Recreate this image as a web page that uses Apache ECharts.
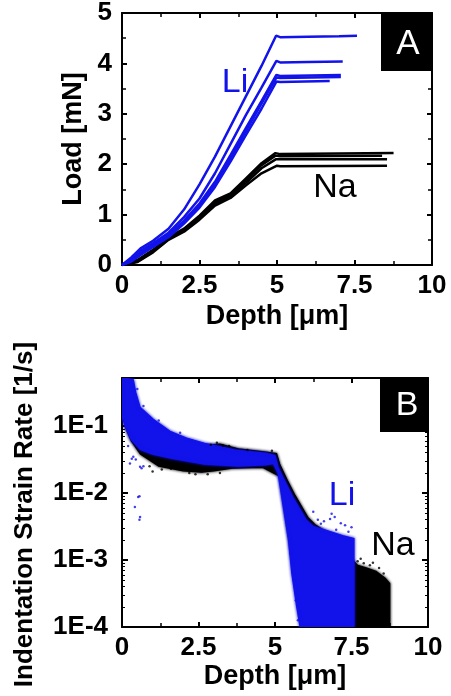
<!DOCTYPE html>
<html><head><meta charset="utf-8">
<script src="https://cdn.jsdelivr.net/npm/echarts@6/dist/echarts.min.js"></script>
<style>html,body{margin:0;padding:0;background:#fff}#c{width:451px;height:696px}</style>
</head><body><div id="c"></div>
<script>
const FONT = '"Liberation Sans", Arial, Helvetica, sans-serif';
const BLUE = '#1212ea';
const BLACK = '#000000';

// ---- Panel A: load vs depth (depth µm, load mN) ----
const depthTicks = [0, 2.5, 5, 7.5, 10];
const loadTicks = [0, 1, 2, 3, 4, 5];
const rateTickLabels = ['1E-4', '1E-3', '1E-2', '1E-1'];

const li1 = [[0,0],[0.3,0.15],[0.6,0.33],[1.0,0.48],[1.5,0.72],[2.0,1.1],[2.5,1.6],[3.0,2.15],[3.5,2.75],[4.0,3.35],[4.5,3.95],[4.97,4.55],[5.1,4.52],[6.0,4.53],[7.0,4.54],[7.58,4.55]];
const li2 = [[0,0],[0.3,0.12],[0.6,0.28],[1.0,0.43],[1.5,0.64],[2.0,0.95],[2.5,1.32],[3.0,1.82],[3.5,2.4],[4.0,2.98],[4.5,3.52],[4.98,4.05],[5.1,4.02],[6.0,4.03],[7.12,4.04]];
const li3 = [[0,0],[0.3,0.1],[0.6,0.25],[1.0,0.4],[1.5,0.6],[2.0,0.88],[2.5,1.22],[3.0,1.65],[3.5,2.18],[4.0,2.72],[4.5,3.25],[4.98,3.77],[5.1,3.75],[7.06,3.77]];
const li4 = [[0,0],[0.3,0.08],[0.6,0.22],[1.0,0.38],[1.5,0.57],[2.0,0.85],[2.5,1.18],[3.0,1.6],[3.5,2.12],[4.0,2.66],[4.5,3.2],[4.98,3.72],[5.1,3.71],[7.06,3.73]];
const li5 = [[0,0],[0.3,0.07],[0.6,0.2],[1.0,0.36],[1.5,0.55],[2.0,0.82],[2.5,1.14],[3.0,1.55],[3.5,2.05],[4.0,2.58],[4.5,3.1],[4.98,3.64],[5.1,3.63],[6.7,3.65]];
const na1 = [[0,0],[0.5,0.1],[1.0,0.3],[1.5,0.55],[2.0,0.72],[2.5,0.98],[3.0,1.28],[3.5,1.42],[4.0,1.72],[4.5,2.02],[4.95,2.22],[5.1,2.2],[7.0,2.21],[8.76,2.22]];
const na2 = [[0,0],[0.5,0.08],[1.0,0.28],[1.5,0.53],[2.0,0.7],[2.5,0.95],[3.0,1.25],[3.5,1.4],[4.0,1.68],[4.5,1.98],[4.95,2.17],[5.1,2.16],[8.39,2.17]];
const na3 = [[0,0],[0.5,0.07],[1.0,0.27],[1.5,0.52],[2.0,0.7],[2.5,0.93],[3.0,1.22],[3.5,1.37],[4.0,1.63],[4.5,1.92],[4.97,2.1],[5.1,2.1],[8.55,2.1]];
const na4 = [[0,0],[0.5,0.06],[1.0,0.25],[1.5,0.5],[2.0,0.66],[2.5,0.9],[3.0,1.18],[3.5,1.33],[4.0,1.58],[4.5,1.82],[5.0,1.97],[5.1,1.96],[8.55,1.97]];

// ---- Panel B: strain rate cloud outlines, [depth, log10(rate)] ----
const liCloudOutline = [[0,-0.28],[0.37,-0.31],[0.45,-0.5],[0.59,-0.72],[1.02,-0.9],[1.57,-1.08],[2.11,-1.18],[2.7,-1.26],[3.7,-1.36],[4.72,-1.41],[5.0,-1.44],[5.1,-1.62],[5.35,-1.85],[5.6,-2.08],[6.03,-2.41],[6.25,-2.5],[6.7,-2.56],[7.23,-2.64],[7.58,-2.68],[7.58,-4],
  [5.82,-4],[5.71,-3.7],[5.55,-3.2],[5.44,-2.7],[5.27,-2.2],[5.1,-1.7],[4.95,-1.56],[4.7,-1.58],[3.8,-1.6],[2.7,-1.57],[1.6,-1.48],[1.0,-1.42],[0.6,-1.35],[0.3,-1.2],[0.1,-1.0],[0,-0.85]];
const naCloudOutline = [[0,-0.5],[0.2,-0.8],[0.5,-1.0],[1.0,-1.15],[1.6,-1.25],[2.5,-1.3],[3.2,-1.27],[3.8,-1.34],[4.7,-1.39],[5.05,-1.41],[5.16,-1.58],[5.4,-1.81],[5.66,-2.04],[6.08,-2.37],[6.3,-2.47],[6.6,-2.56],[7.0,-2.8],[7.58,-3.02],[7.7,-3.08],[8.0,-3.12],[8.3,-3.17],[8.6,-3.27],[8.75,-3.35],[8.75,-4],
  [5.9,-4],[5.5,-2.8],[5.15,-1.75],[4.6,-1.62],[3.6,-1.63],[3.0,-1.67],[2.6,-1.69],[2.0,-1.67],[1.2,-1.6],[0.6,-1.42],[0.3,-1.22],[0.1,-1.0],[0,-0.6]];
const liDots = [[0.32,-1.49],[0.37,-1.46],[0.26,-1.56],[0.59,-1.61],[0.64,-1.63],[0.53,-2.06],[0.42,-2.21],[0.59,-2.36],[0.57,-2.05],[0.57,-2.4],[0.7,-1.6],[0.2,-1.3],[0.45,-1.5],
  [6.25,-2.28],[6.85,-2.31],[6.8,-2.39],[7.29,-2.48],[7.5,-2.51],[6.5,-2.46],[7.0,-2.55],[6.6,-2.42],[7.15,-2.45],[7.4,-2.58],[6.95,-2.36],[6.4,-2.4],
  [5.75,-3.9],[5.68,-3.6],[5.62,-3.3],[5.5,-2.9],[5.4,-2.5],[0.5,-0.45],[0.7,-0.7],[1.2,-0.92],[1.9,-1.1]];
const naDots = [[2.9,-1.28],[3.1,-1.25],[3.3,-1.29],[3.5,-1.3],[4.1,-1.36],[4.9,-1.37],[2.2,-1.7],[2.4,-1.72],[1.3,-1.65],[1.6,-1.64],[3.2,-1.7],[2.8,-1.72],[0.9,-1.6],[1.0,-1.68],
  [7.7,-3.02],[7.9,-3.05],[8.1,-3.08],[8.4,-3.12],[8.55,-3.2],[7.8,-2.98],[8.2,-3.04]];

const toRate = arr => arr.map(p => [p[0], Math.pow(10, p[1])]);

function xAxisCfg(grid, pos, labels, name, nameGap) {
  return {
    type: 'value', gridIndex: grid, position: pos, min: 0, max: 10, interval: 2.5,
    axisLine: {show: true, onZero: false, lineStyle: {color: BLACK, width: 2}},
    axisTick: {show: true, inside: true, length: 5, lineStyle: {color: BLACK, width: 2}},
    minorTick: {show: true, splitNumber: 2, length: 4, lineStyle: {color: BLACK, width: 1.5}},
    splitLine: {show: false}, minorSplitLine: {show: false},
    axisLabel: {show: labels, color: BLACK, fontFamily: FONT, fontWeight: 'bold', fontSize: 26, margin: 8,
      formatter: v => (depthTicks.indexOf(v) >= 0 ? String(v) : '')},
    name: name, nameLocation: 'middle', nameGap: nameGap,
    nameTextStyle: {color: BLACK, fontFamily: FONT, fontWeight: 'bold', fontSize: 27}
  };
}

const option = {
  animation: false,
  backgroundColor: '#fff',
  grid: [
    {left: 122, top: 13, width: 310, height: 252},
    {left: 122, top: 378, width: 306, height: 249}
  ],
  xAxis: [
    xAxisCfg(0, 'bottom', true, 'Depth [μm]', 38),
    xAxisCfg(0, 'top', false, '', 0),
    xAxisCfg(1, 'bottom', true, 'Depth [μm]', 36),
    xAxisCfg(1, 'top', false, '', 0)
  ],
  yAxis: [
    {type: 'value', gridIndex: 0, position: 'left', min: 0, max: 5, interval: 1,
      axisLine: {show: true, onZero: false, lineStyle: {color: BLACK, width: 2}},
      axisTick: {show: true, inside: true, length: 5, lineStyle: {color: BLACK, width: 2}},
      minorTick: {show: true, splitNumber: 2, length: 4, lineStyle: {color: BLACK, width: 1.5}},
      splitLine: {show: false},
      axisLabel: {color: BLACK, fontFamily: FONT, fontWeight: 'bold', fontSize: 26, margin: 10,
        formatter: v => (loadTicks.indexOf(v) >= 0 ? String(v) : '')},
      name: 'Load [mN]', nameLocation: 'middle', nameGap: 35,
      nameTextStyle: {color: BLACK, fontFamily: FONT, fontWeight: 'bold', fontSize: 27}},
    {type: 'value', gridIndex: 0, position: 'right', min: 0, max: 5, interval: 1,
      axisLine: {show: true, onZero: false, lineStyle: {color: BLACK, width: 2}},
      axisTick: {show: true, inside: true, length: 5, lineStyle: {color: BLACK, width: 2}},
      minorTick: {show: true, splitNumber: 2, length: 4, lineStyle: {color: BLACK, width: 1.5}},
      splitLine: {show: false}, axisLabel: {show: false}},
    {type: 'log', logBase: 10, gridIndex: 1, position: 'left', min: 1e-4, max: 0.52,
      axisLine: {show: true, onZero: false, lineStyle: {color: BLACK, width: 2}},
      axisTick: {show: true, inside: true, length: 6, lineStyle: {color: BLACK, width: 2}},
      minorTick: {show: true, splitNumber: 9, length: 3, lineStyle: {color: BLACK, width: 1}},
      splitLine: {show: false},
      axisLabel: {color: BLACK, fontFamily: FONT, fontWeight: 'bold', fontSize: 26, margin: 14, showMaxLabel: false,
        formatter: v => { const e = Math.round(Math.log10(v)); return (Math.abs(Math.log10(v) - e) < 1e-6 && e >= -4 && e <= -1) ? rateTickLabels[e + 4] : ''; }},
      name: 'Indentation Strain Rate [1/s]', nameLocation: 'middle', nameGap: 84,
      nameTextStyle: {color: BLACK, fontFamily: FONT, fontWeight: 'bold', fontSize: 26, padding: [0, 24, 0, 0]}},
    {type: 'log', logBase: 10, gridIndex: 1, position: 'right', min: 1e-4, max: 0.52,
      axisLine: {show: true, onZero: false, lineStyle: {color: BLACK, width: 2}},
      axisTick: {show: true, inside: true, length: 6, lineStyle: {color: BLACK, width: 2}},
      minorTick: {show: true, splitNumber: 9, length: 3, lineStyle: {color: BLACK, width: 1}},
      splitLine: {show: false}, axisLabel: {show: false}}
  ],
  series: []
};

function lineSeries(data, color) {
  return {type: 'line', xAxisIndex: 0, yAxisIndex: 0, data: data, showSymbol: false, silent: true,
    lineStyle: {color: color, width: 2.5}, z: 2};
}
[na1, na2, na3, na4].forEach(d => option.series.push(lineSeries(d, BLACK)));
[li1, li2, li3, li4, li5].forEach(d => option.series.push(lineSeries(d, BLUE)));

function cloudSeries(outline, color, z) {
  const pts = toRate(outline);
  return {type: 'custom', xAxisIndex: 2, yAxisIndex: 2, silent: true, clip: true, z: z,
    data: [pts[0]],
    renderItem: (params, api) => ({type: 'polygon', shape: {points: pts.map(p => api.coord(p))},
      style: {fill: color, stroke: color, lineWidth: 1.2, shadowBlur: 3, shadowColor: color}})};
}
option.series.push(cloudSeries(naCloudOutline, BLACK, 1));
option.series.push(cloudSeries(liCloudOutline, BLUE, 2));
option.series.push({type: 'scatter', xAxisIndex: 2, yAxisIndex: 2, data: toRate(liDots), symbolSize: 2.5,
  itemStyle: {color: BLUE}, silent: true, z: 3});
option.series.push({type: 'scatter', xAxisIndex: 2, yAxisIndex: 2, data: toRate(naDots), symbolSize: 2.5,
  itemStyle: {color: BLACK}, silent: true, z: 3});

const annoFont = (size, color) => ({fill: color, font: 'normal ' + size + 'px ' + FONT, align: 'center', verticalAlign: 'middle'});
option.graphic = [
  {type: 'rect', shape: {x: 381, y: 13, width: 51, height: 58}, style: {fill: BLACK}, z: 100},
  {type: 'text', x: 408, y: 44, style: Object.assign({text: 'A'}, annoFont(35, '#fff')), z: 101},
  {type: 'rect', shape: {x: 380, y: 378, width: 48, height: 54}, style: {fill: BLACK}, z: 100},
  {type: 'text', x: 407, y: 406, style: Object.assign({text: 'B'}, annoFont(34, '#fff')), z: 101},
  {type: 'text', x: 235, y: 83, style: Object.assign({text: 'Li'}, annoFont(34, BLUE)), z: 101},
  {type: 'text', x: 335, y: 188, style: Object.assign({text: 'Na'}, annoFont(34, BLACK)), z: 101},
  {type: 'text', x: 342, y: 496, style: Object.assign({text: 'Li'}, annoFont(34, BLUE)), z: 101},
  {type: 'text', x: 393, y: 546, style: Object.assign({text: 'Na'}, annoFont(34, BLACK)), z: 101}
];

const chart = echarts.init(document.getElementById('c'), null, {renderer: 'canvas'});
chart.setOption(option);
</script></body></html>
